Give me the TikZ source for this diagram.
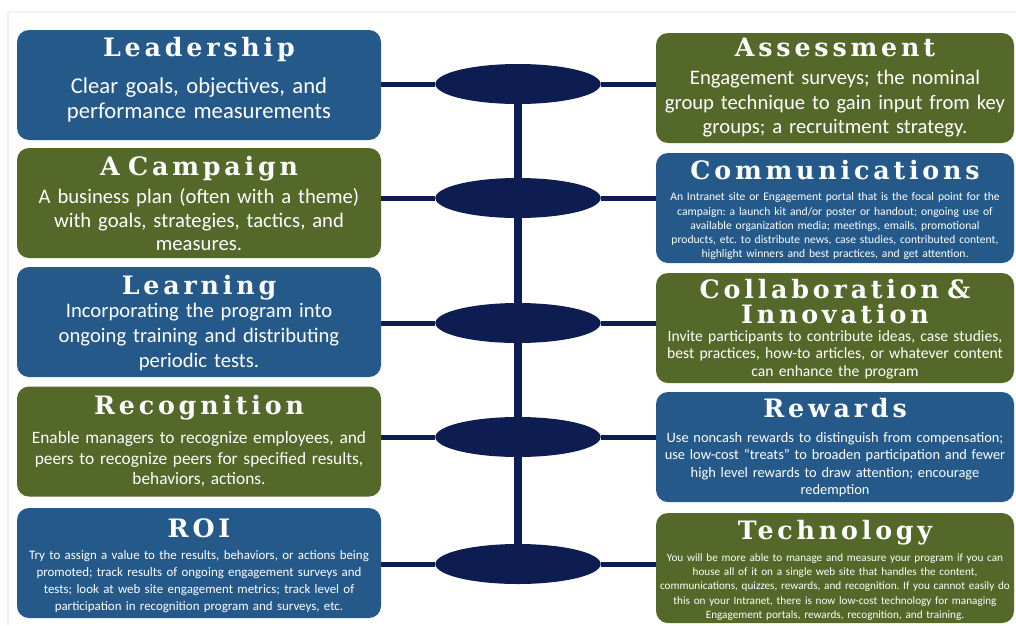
\documentclass[tikz,border=0pt]{standalone}
\usepackage{fontspec}
\setmainfont{Carlito}
\newfontfamily\ttlfont[LetterSpace=15]{DejaVu Serif}
\usetikzlibrary{shapes.geometric,positioning,backgrounds}
\definecolor{boxblue}{RGB}{36,89,138}
\definecolor{boxgreen}{RGB}{84,104,41}
\definecolor{hubnavy}{RGB}{13,29,82}
\frenchspacing
\tikzset{
  pillar/.style={rounded corners=9pt, minimum height=82.5pt, inner sep=0pt},
  bluebox/.style={pillar, fill=boxblue},
  greenbox/.style={pillar, fill=boxgreen},
  leftbox/.style={minimum width=273pt},
  rightbox/.style={minimum width=268.5pt},
  ttl/.style={text=white, font=\ttlfont\bfseries\fontsize{19}{18.75}\selectfont, text width=280pt, align=center, inner sep=0pt, anchor=base},
  txt/.style={text=white, text width=280pt, align=center, inner sep=0pt, anchor=base},
  bigtxt/.style={txt, font=\fontsize{15.5}{18.4}\selectfont},
  midtxt/.style={txt, font=\fontsize{13}{15.4}\selectfont},
  smalltxt/.style={txt, font=\fontsize{10.8}{13}\selectfont},
  tinytxt/.style={txt, font=\fontsize{8.7}{10.7}\selectfont},
  hub/.style={ellipse, fill=hubnavy, minimum width=124pt, minimum height=30pt, inner sep=0pt},
  link/.style={hubnavy, line width=3.75pt},
}
\begin{document}
\begin{tikzpicture}[x=0.75pt,y=-0.75pt]
\useasboundingbox (0,0) rectangle (1016,625);
\draw[gray!10, line width=1pt] (8,625) -- (8,12) -- (1016,12); % faint frame

% left column
\node[bluebox, leftbox] (lead) at (199,85) {};
\node[ttl] (leadT) at ([yshift=-20pt]lead.north) {Leadership};
\node[bigtxt, font=\fontsize{17}{18.8}\selectfont] (leadB) at ([yshift=-28pt]leadT.base) {Clear goals, objectives, and\\performance measurements};

\node[greenbox, leftbox] (camp) at (199,203) {};
\node[ttl] (campT) at ([yshift=-21pt]camp.north) {A Campaign};
\node[bigtxt, font=\fontsize{15.5}{17.6}\selectfont] (campB) at ([yshift=-21pt]campT.base) {A business plan (often with a theme)\\with goals, strategies, tactics, and\\measures.};

\node[bluebox, leftbox] (learn) at (199,322) {};
\node[ttl] (learnT) at ([yshift=-21pt]learn.north) {Learning};
\node[bigtxt, font=\fontsize{15.5}{18.75}\selectfont] (learnB) at ([yshift=-17pt]learnT.base) {Incorporating the program into\\ongoing training and distributing\\periodic tests.};

\node[greenbox, leftbox] (recog) at (199,441.5) {};
\node[ttl] (recogT) at ([yshift=-21pt]recog.north) {Recognition};
\node[midtxt] (recogB) at ([yshift=-22pt]recogT.base) {Enable managers to recognize employees, and\\peers to recognize peers for specified results,\\behaviors, actions.};

\node[bluebox, leftbox] (roi) at (199,563) {};
\node[ttl] (roiT) at ([yshift=-22pt]roi.north) {ROI};
\node[smalltxt, font=\fontsize{9.7}{12.8}\selectfont] (roiB) at ([yshift=-17pt]roiT.base) {Try to assign a value to the results, behaviors, or actions being\\promoted; track results of ongoing engagement surveys and\\tests; look at web site engagement metrics; track level of\\participation in recognition program and surveys, etc.};

% right column
\node[greenbox, rightbox] (assess) at (835,88) {};
\node[ttl] (assessT) at ([yshift=-18pt]assess.north) {Assessment};
\node[bigtxt] (assessB) at ([yshift=-21pt]assessT.base) {Engagement surveys; the nominal\\group technique to gain input from key\\groups; a recruitment strategy.};

\node[bluebox, rightbox] (comm) at (835,208) {};
\node[ttl] (commT) at ([yshift=-20pt]comm.north) {Communications};
\node[tinytxt] (commB) at ([yshift=-16pt]commT.base) {An Intranet site or Engagement portal that is the focal point for the\\campaign: a launch kit and/or poster or handout; ongoing use of\\available organization media; meetings, emails, promotional\\products, etc. to distribute news, case studies, contributed content,\\highlight winners and best practices, and get attention.};

\node[greenbox, rightbox] (collab) at (835,328) {};
\node[ttl] (collabT) at ([yshift=-19pt]collab.north) {Collaboration \&\\Innovation};
\node[midtxt, font=\fontsize{11.7}{13.2}\selectfont] (collabB) at ([yshift=-32.25pt]collabT.base) {Invite participants to contribute ideas, case studies,\\best practices, how-to articles, or whatever content\\can enhance the program};

\node[bluebox, rightbox] (reward) at (835,447) {};
\node[ttl] (rewardT) at ([yshift=-19pt]reward.north) {Rewards};
\node[smalltxt] (rewardB) at ([yshift=-19pt]rewardT.base) {Use noncash rewards to distinguish from compensation;\\use low-cost “treats” to broaden participation and fewer\\high level rewards to draw attention; encourage\\redemption};

\node[greenbox, rightbox] (tech) at (835,568) {};
\node[ttl] (techT) at ([yshift=-20pt]tech.north) {Technology};
\node[tinytxt, font=\fontsize{8.4}{10.7}\selectfont] (techB) at ([yshift=-16.5pt]techT.base) {You will be more able to manage and measure your program if you can\\house all of it on a single web site that handles the content,\\communications, quizzes, rewards, and recognition. If you cannot easily do\\this on your Intranet, there is now low-cost technology for managing\\Engagement portals, rewards, recognition, and training.};

% hubs in the middle
\node[hub] (h1) at (518,84) {};
\node[hub] (h2) at (518,198) {};
\node[hub] (h3) at (518,323) {};
\node[hub] (h4) at (518,437) {};
\node[hub] (h5) at (518,564) {};

\begin{pgfonlayer}{background}
\draw[hubnavy, line width=6.5pt] (h1.center) -- (h5.center); % spine
\draw[link] (h1.west) -- (h1.west -| lead.east);
\draw[link] (h1.east) -- (h1.east -| assess.west);
\draw[link] (h2.west) -- (h2.west -| camp.east);
\draw[link] (h2.east) -- (h2.east -| comm.west);
\draw[link] (h3.west) -- (h3.west -| learn.east);
\draw[link] (h3.east) -- (h3.east -| collab.west);
\draw[link] (h4.west) -- (h4.west -| recog.east);
\draw[link] (h4.east) -- (h4.east -| reward.west);
\draw[link] (h5.west) -- (h5.west -| roi.east);
\draw[link] (h5.east) -- (h5.east -| tech.west);
\end{pgfonlayer}
\end{tikzpicture}
\end{document}
